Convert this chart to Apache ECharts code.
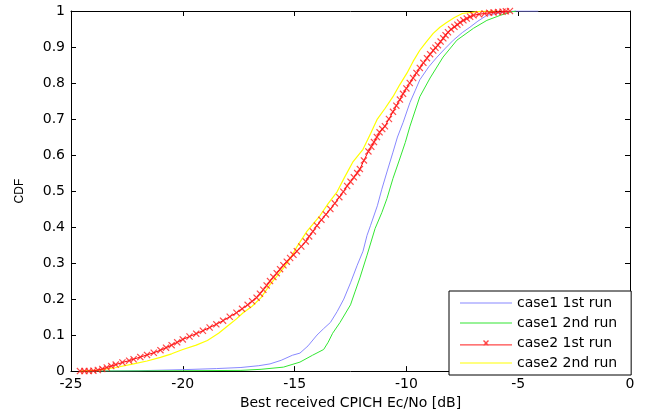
<!DOCTYPE html>
<html>
<head>
<meta charset="utf-8">
<script src="https://cdn.jsdelivr.net/npm/echarts@6/dist/echarts.min.js"></script>
<style>html,body{margin:0;padding:0;background:#fff;}#c{width:651px;height:415px;}</style>
</head>
<body>
<div id="c"></div>
<script>
const seriesNames = ['case1 1st run', 'case1 2nd run', 'case2 1st run', 'case2 2nd run'];
const xTicks = [-25, -20, -15, -10, -5, 0];
const yTicks = [0, 0.1, 0.2, 0.3, 0.4, 0.5, 0.6, 0.7, 0.8, 0.9, 1];

const case1Run1 = [[-24.3,0],[-22.0,0.001],[-20.0,0.004],[-18.5,0.007],[-17.4,0.01],[-16.6,0.015],[-16.1,0.02],[-15.6,0.03],[-15.1,0.044],[-14.76,0.05],[-14.4,0.07],[-14.0,0.1],[-13.7,0.118],[-13.4,0.135],[-13.1,0.165],[-12.8,0.2],[-12.5,0.245],[-12.2,0.294],[-11.94,0.333],[-11.76,0.377],[-11.6,0.405],[-11.3,0.459],[-11.1,0.505],[-10.87,0.553],[-10.6,0.608],[-10.4,0.65],[-10.15,0.69],[-9.84,0.746],[-9.6,0.78],[-9.4,0.809],[-9.0,0.845],[-8.63,0.872],[-8.25,0.897],[-7.9,0.919],[-7.5,0.94],[-7.16,0.955],[-6.8,0.972],[-6.4,0.988],[-6.0,0.993],[-5.7,0.996],[-5.2,1],[-4.1,1]];

const case1Run2 = [[-24.3,0],[-20,0.001],[-17.4,0.002],[-16.5,0.005],[-15.5,0.011],[-14.76,0.025],[-14.2,0.044],[-13.7,0.06],[-13.5,0.08],[-13.3,0.105],[-12.97,0.135],[-12.5,0.184],[-12.3,0.22],[-12.08,0.259],[-11.76,0.322],[-11.4,0.396],[-11.1,0.44],[-10.87,0.479],[-10.6,0.535],[-10.3,0.589],[-10.05,0.635],[-9.84,0.68],[-9.6,0.725],[-9.4,0.762],[-8.94,0.814],[-8.36,0.872],[-7.74,0.919],[-7.0,0.952],[-6.4,0.974],[-5.8,0.988],[-5.4,0.996],[-5.1,1]];

const case2Run1 = [[-24.6,0],[-24.4,0],[-24.2,0],[-24.0,0.001],[-23.8,0.003],[-23.6,0.006],[-23.4,0.01],[-23.2,0.014],[-23.0,0.018],[-22.7,0.024],[-22.4,0.029],[-22.2,0.033],[-21.9,0.039],[-21.6,0.045],[-21.3,0.051],[-21.0,0.058],[-20.75,0.065],[-20.5,0.072],[-20.25,0.08],[-20.0,0.088],[-19.7,0.096],[-19.4,0.104],[-19.1,0.112],[-18.8,0.121],[-18.5,0.13],[-18.2,0.14],[-17.9,0.151],[-17.6,0.162],[-17.35,0.173],[-17.1,0.184],[-16.9,0.194],[-16.7,0.204],[-16.55,0.215],[-16.4,0.226],[-16.25,0.238],[-16.1,0.25],[-15.95,0.261],[-15.8,0.272],[-15.65,0.283],[-15.5,0.294],[-15.35,0.304],[-15.2,0.314],[-15.05,0.323],[-14.9,0.333],[-14.7,0.346],[-14.5,0.36],[-14.35,0.374],[-14.18,0.388],[-14.0,0.404],[-13.8,0.42],[-13.6,0.435],[-13.4,0.45],[-13.2,0.466],[-13.0,0.483],[-12.82,0.498],[-12.65,0.514],[-12.5,0.526],[-12.35,0.538],[-12.2,0.55],[-12.08,0.561],[-11.9,0.585],[-11.7,0.61],[-11.57,0.623],[-11.45,0.636],[-11.32,0.65],[-11.2,0.663],[-11.08,0.672],[-10.96,0.68],[-10.78,0.70],[-10.6,0.72],[-10.45,0.737],[-10.29,0.754],[-10.15,0.77],[-10.0,0.785],[-9.85,0.8],[-9.7,0.814],[-9.55,0.828],[-9.4,0.842],[-9.24,0.856],[-9.08,0.869],[-8.94,0.88],[-8.8,0.89],[-8.7,0.898],[-8.59,0.905],[-8.47,0.915],[-8.35,0.924],[-8.25,0.933],[-8.14,0.941],[-8.0,0.949],[-7.85,0.956],[-7.72,0.962],[-7.6,0.968],[-7.45,0.974],[-7.3,0.979],[-7.15,0.984],[-7.0,0.988],[-6.75,0.991],[-6.5,0.993],[-6.3,0.995],[-6.1,0.996],[-5.9,0.997],[-5.7,0.998],[-5.55,0.999],[-5.37,1]];

const case2Run2 = [[-24.6,0],[-23.7,0.003],[-23.0,0.01],[-22.2,0.02],[-21.6,0.028],[-21.0,0.038],[-20.5,0.048],[-20,0.06],[-19.4,0.072],[-18.9,0.085],[-18.4,0.105],[-17.9,0.13],[-17.6,0.145],[-17.3,0.162],[-16.9,0.18],[-16.5,0.204],[-16.1,0.24],[-15.8,0.263],[-15.5,0.286],[-15.2,0.312],[-14.9,0.345],[-14.45,0.388],[-13.86,0.432],[-13.5,0.465],[-13.1,0.498],[-12.75,0.54],[-12.4,0.58],[-11.94,0.616],[-11.6,0.66],[-11.3,0.70],[-10.95,0.73],[-10.6,0.762],[-10.3,0.795],[-9.97,0.828],[-9.7,0.86],[-9.4,0.891],[-9.1,0.915],[-8.8,0.938],[-8.5,0.955],[-8.2,0.968],[-7.85,0.982],[-7.5,0.993],[-6.7,0.999],[-6.0,1]];

const colors = ['#8888ff', '#33e633', '#ff0000', '#ffff00'];
const xMark = 'path://M0,1.2L1.2,0L5,3.8L8.8,0L10,1.2L6.2,5L10,8.8L8.8,10L5,6.2L1.2,10L0,8.8L3.8,5Z';
const lineIcon = 'path://M0,0H52V1.2H0Z';
const redIcon = 'path://M0,6.4H52V7.6H0ZM23,3.2L24,2.2L26,4.2L28,2.2L29,3.2L27,5.2L29,7.2L28,8.2L26,6.2L24,8.2L23,7.2L25,5.2Z';
const font = 'DejaVu Sans, Verdana, sans-serif';

const chart = echarts.init(document.getElementById('c'), null, {renderer: 'canvas'});
const axisBase = {
  min: 0, max: 1, interval: 0.1,
  axisLine: {show: true, onZero: false, lineStyle: {color: '#000', width: 1}},
  axisTick: {show: true, inside: true, length: 5, lineStyle: {color: '#000'}},
  splitLine: {show: false}
};
chart.setOption({
  animation: false,
  backgroundColor: '#fff',
  grid: {left: 71, right: 21, top: 11, bottom: 41},
  legend: {
    orient: 'vertical', left: 449, top: 291,
    padding: [5, 14, 5, 11], itemWidth: 52, itemHeight: 14, itemGap: 6,
    backgroundColor: '#fff', borderColor: '#000', borderWidth: 1, borderRadius: 0,
    textStyle: {fontFamily: font, fontSize: 14, color: '#000'},
    data: [
      {name: seriesNames[0], icon: lineIcon},
      {name: seriesNames[1], icon: lineIcon},
      {name: seriesNames[2], icon: redIcon},
      {name: seriesNames[3], icon: lineIcon}
    ]
  },
  xAxis: [{
    type: 'value', min: xTicks[0], max: xTicks[xTicks.length - 1], interval: 5,
    position: 'bottom',
    name: 'Best received CPICH Ec/No [dB]', nameLocation: 'middle', nameGap: 23,
    nameTextStyle: {fontFamily: font, fontSize: 14, color: '#000'},
    axisLine: {show: true, onZero: false, lineStyle: {color: '#000', width: 1}},
    axisTick: {show: true, inside: true, length: 5, lineStyle: {color: '#000'}},
    axisLabel: {fontFamily: font, fontSize: 14, color: '#000', margin: 6},
    splitLine: {show: false}
  }, {
    type: 'value', min: xTicks[0], max: xTicks[xTicks.length - 1], interval: 5,
    position: 'top',
    axisLine: {show: true, onZero: false, lineStyle: {color: '#000', width: 1}},
    axisTick: {show: true, inside: true, length: 5, lineStyle: {color: '#000'}},
    axisLabel: {show: false},
    splitLine: {show: false}
  }],
  yAxis: [Object.assign({}, axisBase, {
    type: 'value', position: 'left',
    name: 'CDF', nameLocation: 'middle', nameGap: 45, nameRotate: 90,
    nameTextStyle: {fontFamily: 'Liberation Sans, Arial, sans-serif', fontSize: 12, color: '#000'},
    axisLabel: {fontFamily: font, fontSize: 14, color: '#000', margin: 6,
      formatter: v => String(yTicks.find(t => Math.abs(t - v) < 1e-9) ?? v)}
  }), Object.assign({}, axisBase, {
    type: 'value', position: 'right', axisLabel: {show: false}
  })],
  series: [
    {name: seriesNames[0], type: 'line', data: case1Run1, showSymbol: false, symbol: 'none',
     lineStyle: {color: colors[0], width: 1}, itemStyle: {color: colors[0]}, z: 2},
    {name: seriesNames[1], type: 'line', data: case1Run2, showSymbol: false, symbol: 'none',
     lineStyle: {color: colors[1], width: 1}, itemStyle: {color: colors[1]}, z: 2},
    {name: seriesNames[3], type: 'line', data: case2Run2, showSymbol: false, symbol: 'none',
     lineStyle: {color: colors[3], width: 1.2}, itemStyle: {color: colors[3]}, z: 3},
    {name: seriesNames[2], type: 'line', data: case2Run1, showSymbol: true, showAllSymbol: true,
     symbol: xMark, symbolSize: 7,
     lineStyle: {color: colors[2], width: 1}, itemStyle: {color: '#ff1a1a', opacity: 0.8}, z: 4}
  ]
});
</script>
</body>
</html>
